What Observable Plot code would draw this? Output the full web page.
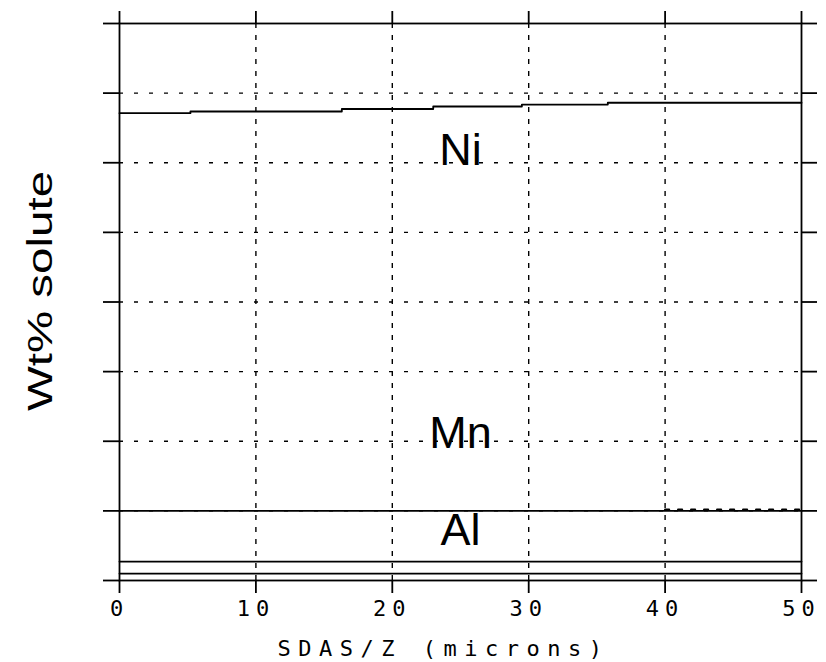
<!DOCTYPE html>
<html>
<head>
<meta charset="utf-8">
<script src="https://cdn.jsdelivr.net/npm/d3@7"></script>
<script src="https://cdn.jsdelivr.net/npm/@observablehq/plot@0.6"></script>
<style>
  html, body { margin: 0; padding: 0; background: #fff; }
</style>
</head>
<body>
<div id="chart"></div>
<script>
// ---- data ----
const xTicks = [0, 10, 20, 30, 40, 50];
const yTicks = [0, 5, 10, 15, 20, 25, 30, 35, 40];

const niX = [0, 5.2, 16.3, 23, 29.5, 35.8, 50];
const niY = [33.56, 33.68, 33.86, 34.04, 34.18, 34.31, 34.31];

const mnX = [0, 50];
const mnY = [5.0, 5.0];

const dotX = [40, 50];
const dotY = [5.1, 5.1];

const alX = [0, 50];
const al1Y = [1.36, 1.36];
const al2Y = [0.5, 0.5];

const labelNames = ["Ni", "Mn", "Al"];
const labelX = [25, 25, 25];
const labelY = [30.84, 10.52, 3.59];

const xTitle = "SDAS/Z (microns)";
const yTitle = "Wt% solute";

const pts = (xs, ys) => xs.map((x, i) => ({x, y: ys[i]}));

const mono = "DejaVu Sans Mono, monospace";
const sans = "Liberation Sans, Arial, sans-serif";

const chart = Plot.plot({
  width: 826,
  height: 662,
  marginLeft: 119,
  marginRight: 25,
  marginTop: 23,
  marginBottom: 82,
  style: {background: "#fff", color: "#000"},
  x: {domain: [0, 50]},
  y: {domain: [0, 40]},
  marks: [
    Plot.ruleX(xTicks.slice(1, -1), {stroke: "#000", strokeWidth: 1.4, strokeDasharray: "5,7"}),
    Plot.ruleY(yTicks.slice(1, -1), {stroke: "#000", strokeWidth: 1.4, strokeDasharray: "4,11"}),
    Plot.frame({stroke: "#000", strokeWidth: 1.8}),
    Plot.axisX({anchor: "bottom", ticks: xTicks, tickSize: 13, tickPadding: 7, fontFamily: mono, fontSize: 22, label: null, strokeWidth: 1.8}),
    Plot.axisX({anchor: "top", ticks: xTicks, tickSize: 13, tickFormat: () => "", label: null, strokeWidth: 1.8}),
    Plot.axisY({anchor: "left", ticks: yTicks, tickSize: 16, tickFormat: () => "", label: null, strokeWidth: 1.8}),
    Plot.axisY({anchor: "right", ticks: yTicks, tickSize: 15, tickFormat: () => "", label: null, strokeWidth: 1.8}),
    Plot.line(pts(niX, niY), {x: "x", y: "y", curve: "step-after", stroke: "#000", strokeWidth: 1.8}),
    Plot.line(pts(mnX, mnY), {x: "x", y: "y", stroke: "#000", strokeWidth: 1.8}),
    Plot.line(pts(dotX, dotY), {x: "x", y: "y", stroke: "#000", strokeWidth: 2.2, strokeDasharray: "4,9"}),
    Plot.line(pts(alX, al1Y), {x: "x", y: "y", stroke: "#000", strokeWidth: 1.8}),
    Plot.line(pts(alX, al2Y), {x: "x", y: "y", stroke: "#000", strokeWidth: 1.8}),
    Plot.text(labelNames, {x: labelX, y: labelY, text: labelNames, fontSize: 45, fontFamily: sans, textAnchor: "middle", lineAnchor: "middle", fill: "#000"}),
    Plot.text([xTitle], {frameAnchor: "bottom", text: d => d, dy: 60, dx: -17, lineAnchor: "top", fontSize: 22, fontFamily: mono, fill: "#000"}),
    Plot.text([yTitle], {frameAnchor: "left", text: d => d, dx: -79, dy: -11, rotate: -90, textAnchor: "middle", lineAnchor: "middle", fontSize: 36, fontFamily: sans, fill: "#000"})
  ]
});

document.getElementById("chart").appendChild(chart);

const svg = d3.select(chart);
svg.selectAll('g[aria-label="x-axis tick label"] text').attr("letter-spacing", 6);
svg.selectAll("text").filter(function() { return this.textContent === xTitle; }).attr("letter-spacing", 7.5);
svg.selectAll("text").filter(function() { return this.textContent === yTitle; })
  .each(function() {
    const t = this.getAttribute("transform") || "";
    this.setAttribute("transform", t + " scale(1.32,1)");
  });
</script>
</body>
</html>
